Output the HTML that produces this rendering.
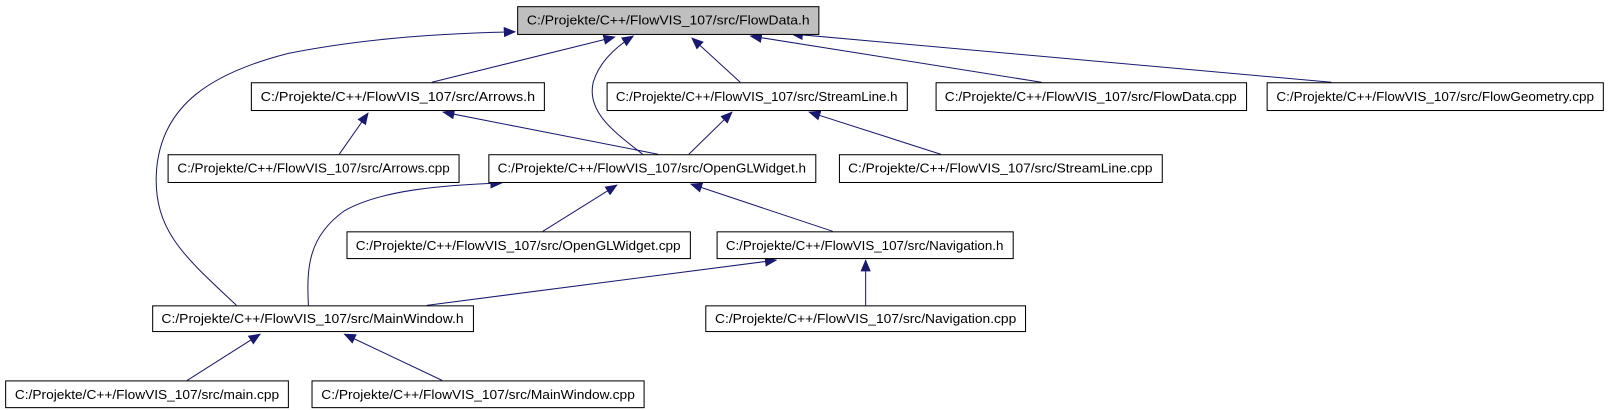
<!DOCTYPE html>
<html><head><meta charset="utf-8"><style>
html,body{margin:0;padding:0;background:#fff;}
svg{display:block;}
text{font-family:"Liberation Sans",sans-serif;font-size:12.5px;fill:#000;}
</style></head><body>
<svg width="1612" height="410" viewBox="0 0 1612 410" xmlns="http://www.w3.org/2000/svg">
<defs>
<marker id="a" markerWidth="12" markerHeight="10" refX="11" refY="5" orient="auto" markerUnits="userSpaceOnUse">
<path d="M0,0 L12,5 L0,10 Z" fill="#191970"/>
</marker>
</defs>
<g transform="scale(1.0281)">
<g fill="none" stroke="#191970" stroke-width="1" marker-end="url(#a)">
<path d="M230,297 C180,250 150,225 152,170 C155,100 210,70 280,52 C360,36 440,32 501,31"/>
<path d="M420,80 L598,36"/>
<path d="M625,150 C600,130 570,110 577,80 C583,60 600,45 616,35"/>
<path d="M720,80 L673,37"/>
<path d="M1013,80 L730,35"/>
<path d="M1295,80 L770,33"/>
<path d="M330,150 L358,110"/>
<path d="M640,150 L431,109"/>
<path d="M670,150 L712,109"/>
<path d="M915,150 L787,109"/>
<path d="M300,297 C298,260 300,230 335,205 C370,185 430,180 488,178"/>
<path d="M528,225 L600,180"/>
<path d="M810,225 L672,179"/>
<path d="M415,297 L755,253"/>
<path d="M842,297 L842,253"/>
<path d="M182,370 L253,325"/>
<path d="M430,370 L335,325"/>
</g>
<g stroke="#000" stroke-width="1">
<rect x="503.5" y="6.5" width="293" height="27" fill="#bfbfbf"/>
<rect x="244.5" y="80.5" width="285" height="27" fill="#fff"/>
<rect x="590.5" y="80.5" width="292" height="27" fill="#fff"/>
<rect x="910.5" y="80.5" width="302" height="27" fill="#fff"/>
<rect x="1232.5" y="80.5" width="327" height="27" fill="#fff"/>
<rect x="163.5" y="150.5" width="283" height="27" fill="#fff"/>
<rect x="475.5" y="150.5" width="318" height="27" fill="#fff"/>
<rect x="816.5" y="150.5" width="314" height="27" fill="#fff"/>
<rect x="337.5" y="225.5" width="334" height="26" fill="#fff"/>
<rect x="697.5" y="225.5" width="288" height="26" fill="#fff"/>
<rect x="148.5" y="297.5" width="312" height="25" fill="#fff"/>
<rect x="686.5" y="297.5" width="311" height="25" fill="#fff"/>
<rect x="5.5" y="370.5" width="275" height="26" fill="#fff"/>
<rect x="303.5" y="370.5" width="323" height="26" fill="#fff"/>
</g>
<g text-anchor="middle" lengthAdjust="spacingAndGlyphs">
<text x="650" y="24" textLength="275" lengthAdjust="spacingAndGlyphs">C:/Projekte/C++/FlowVIS_107/src/FlowData.h</text>
<text x="387" y="98" textLength="267" lengthAdjust="spacingAndGlyphs">C:/Projekte/C++/FlowVIS_107/src/Arrows.h</text>
<text x="736" y="98" textLength="274" lengthAdjust="spacingAndGlyphs">C:/Projekte/C++/FlowVIS_107/src/StreamLine.h</text>
<text x="1061" y="98" textLength="284" lengthAdjust="spacingAndGlyphs">C:/Projekte/C++/FlowVIS_107/src/FlowData.cpp</text>
<text x="1396" y="98" textLength="309" lengthAdjust="spacingAndGlyphs">C:/Projekte/C++/FlowVIS_107/src/FlowGeometry.cpp</text>
<text x="305" y="168" textLength="265" lengthAdjust="spacingAndGlyphs">C:/Projekte/C++/FlowVIS_107/src/Arrows.cpp</text>
<text x="634" y="168" textLength="300" lengthAdjust="spacingAndGlyphs">C:/Projekte/C++/FlowVIS_107/src/OpenGLWidget.h</text>
<text x="973" y="168" textLength="296" lengthAdjust="spacingAndGlyphs">C:/Projekte/C++/FlowVIS_107/src/StreamLine.cpp</text>
<text x="504" y="243" textLength="316" lengthAdjust="spacingAndGlyphs">C:/Projekte/C++/FlowVIS_107/src/OpenGLWidget.cpp</text>
<text x="841" y="243" textLength="270" lengthAdjust="spacingAndGlyphs">C:/Projekte/C++/FlowVIS_107/src/Navigation.h</text>
<text x="304" y="314" textLength="294" lengthAdjust="spacingAndGlyphs">C:/Projekte/C++/FlowVIS_107/src/MainWindow.h</text>
<text x="842" y="314" textLength="293" lengthAdjust="spacingAndGlyphs">C:/Projekte/C++/FlowVIS_107/src/Navigation.cpp</text>
<text x="143" y="388" textLength="257" lengthAdjust="spacingAndGlyphs">C:/Projekte/C++/FlowVIS_107/src/main.cpp</text>
<text x="465" y="388" textLength="305" lengthAdjust="spacingAndGlyphs">C:/Projekte/C++/FlowVIS_107/src/MainWindow.cpp</text>
</g>
</g>
</svg>
</body></html>
